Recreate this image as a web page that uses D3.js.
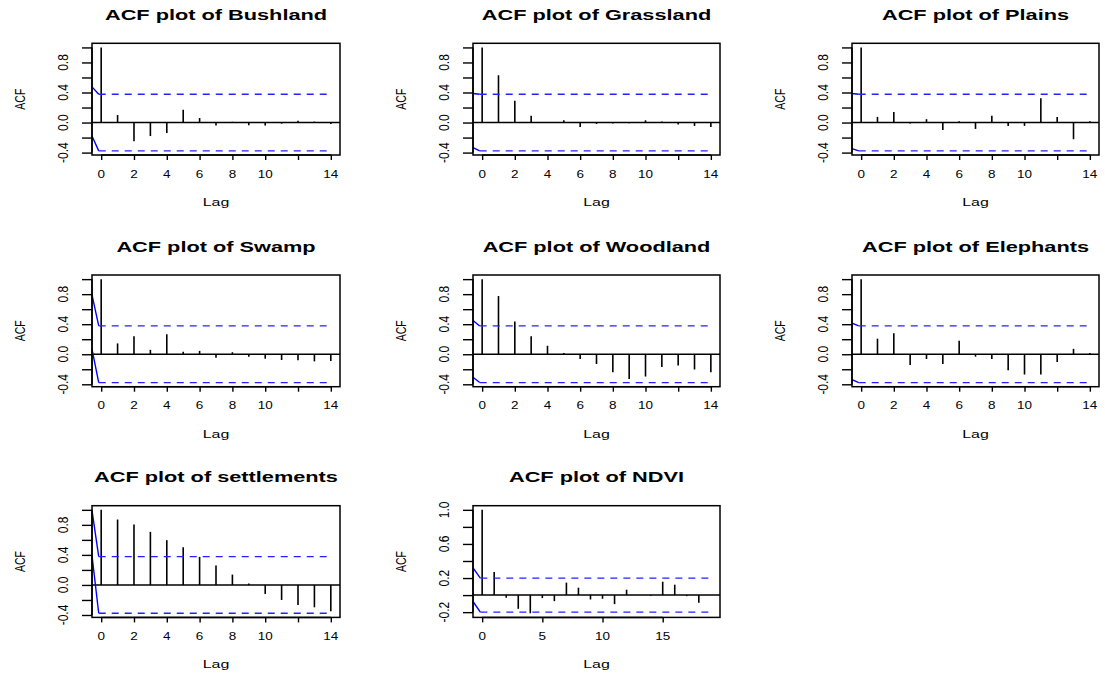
<!DOCTYPE html>
<html>
<head>
<meta charset="utf-8">
<script src="https://cdn.jsdelivr.net/npm/d3@7"></script>
<style>
  body { margin: 0; background: #fff; }
  svg text { font-family: "Liberation Sans", Arial, Helvetica, sans-serif; fill: #000; }
</style>
</head>
<body>
<svg id="chart" width="1105" height="676"></svg>
<script>
// panel names, in reading order
const names = ['Bushland', 'Grassland', 'Plains', 'Swamp', 'Woodland', 'Elephants', 'settlements', 'NDVI'];

// lags
const lags14 = [0, 1, 2, 3, 4, 5, 6, 7, 8, 9, 10, 11, 12, 13, 14];
const lags19 = [0, 1, 2, 3, 4, 5, 6, 7, 8, 9, 10, 11, 12, 13, 14, 15, 16, 17, 18, 19];

// acf values
const acfBushland    = [1.0, 0.10, -0.25, -0.18, -0.14, 0.17, 0.06, -0.04, 0.01, -0.035, -0.04, -0.015, 0.025, 0.013, -0.02];
const acfGrassland   = [1.0, 0.63, 0.29, 0.09, 0.0, 0.03, -0.058, -0.018, -0.013, -0.01, 0.03, 0.013, -0.027, -0.045, -0.06];
const acfPlains      = [1.0, 0.075, 0.14, -0.013, 0.045, -0.10, 0.018, -0.085, 0.09, -0.045, -0.045, 0.325, 0.075, -0.222, 0.018];
const acfSwamp       = [1.0, 0.144, 0.239, 0.059, 0.266, 0.032, 0.045, -0.045, 0.027, -0.032, -0.059, -0.077, -0.081, -0.095, -0.09];
const acfWoodland    = [1.0, 0.775, 0.437, 0.239, 0.113, 0.018, -0.063, -0.13, -0.239, -0.329, -0.297, -0.171, -0.149, -0.203, -0.239];
const acfElephants   = [1.0, 0.207, 0.279, -0.144, -0.063, -0.131, 0.18, -0.032, -0.063, -0.212, -0.27, -0.27, -0.104, 0.072, 0.018];
const acfSettlements = [1.0, 0.871, 0.804, 0.707, 0.596, 0.502, 0.373, 0.258, 0.138, 0.018, -0.12, -0.2, -0.267, -0.298, -0.351];
const acfNDVI        = [1.0, 0.272, -0.031, -0.161, -0.213, -0.035, -0.071, 0.146, 0.087, -0.051, -0.043, -0.106, 0.063, 0.0, -0.008, 0.157, 0.122, -0.012, -0.091, 0.0];

// confidence band (+/-) for each panel
const clim = [0.377, 0.377, 0.377, 0.377, 0.377, 0.377, 0.377, 0.2];
// where the blue band lines start at the left edge of each box
const upperStart = [0.475, 0.387, 0.387, 0.79, 0.45, 0.414, 0.99, 0.319];
const lowerStart = [-0.178, -0.333, -0.347, 0.068, -0.306, -0.338, 0.39, -0.075];

// tick values and labels
const yTicksMain = [-0.4, -0.2, 0.0, 0.2, 0.4, 0.6, 0.8, 1.0];
const yLabelMain = [-0.4, 0.0, 0.4, 0.8];
const yTicksNDVI = [-0.2, 0.0, 0.2, 0.4, 0.6, 0.8, 1.0];
const yLabelNDVI = [-0.2, 0.2, 0.6, 1.0];
const xTicksMain = [0, 2, 4, 6, 8, 10, 12, 14];
const xLabelMain = ['0', '2', '4', '6', '8', '10', '', '14'];
const xTicksNDVI = [0, 5, 10, 15];
const xLabelNDVI = ['0', '5', '10', '15'];

const series = [acfBushland, acfGrassland, acfPlains, acfSwamp, acfWoodland, acfElephants, acfSettlements, acfNDVI];

const colLeft = [92, 473, 852];
const colRight = [340, 720, 1099];
const rowTop = [43.3, 275, 505.7];
const boxH = 111.7;

const svg = d3.select('#chart');

names.forEach(function(name, i) {
    const isNDVI = name === 'NDVI';
    const vals = series[i];
    const lags = isNDVI ? lags19 : lags14;
    const maxLag = lags[lags.length - 1];
    const cl = clim[i];
    const col = i % 3, row = Math.floor(i / 3);
    const x0 = colLeft[col], x1 = colRight[col];
    const y0 = rowTop[row], y1 = rowTop[row] + boxH;

    // R style limits, 4% padding
    const lo = Math.min(d3.min(vals), -cl), hi = Math.max(d3.max(vals), cl);
    const pad = (hi - lo) * 0.04;
    const yScale = d3.scaleLinear().domain([lo - pad, hi + pad]).range([y1, y0]);
    const xScale = d3.scaleLinear().domain([-0.04 * maxLag, maxLag * 1.04]).range([x0, x1]);

    const g = svg.append('g');

    // zero line
    g.append('line')
        .attr('x1', x0).attr('x2', x1)
        .attr('y1', yScale(0)).attr('y2', yScale(0))
        .attr('stroke', '#000').attr('stroke-width', 1.5);

    // spikes
    g.selectAll('line.spike')
        .data(lags)
        .enter()
        .append('line')
        .attr('class', 'spike')
        .attr('x1', (d) => xScale(d)).attr('x2', (d) => xScale(d))
        .attr('y1', yScale(0))
        .attr('y2', (d, k) => yScale(vals[k]))
        .attr('stroke', '#000').attr('stroke-width', 1.6);

    // confidence lines: slanted start then dashed
    const dashFrom = -0.15;
    [[cl, upperStart[i]], [-cl, lowerStart[i]]].forEach(function(p) {
        g.append('line')
            .attr('x1', x0).attr('y1', yScale(p[1]))
            .attr('x2', xScale(dashFrom)).attr('y2', yScale(p[0]))
            .attr('stroke', '#0000ff').attr('stroke-width', 1.4);
        g.append('line')
            .attr('x1', xScale(dashFrom)).attr('x2', xScale(maxLag))
            .attr('y1', yScale(p[0])).attr('y2', yScale(p[0]))
            .attr('stroke', '#2222ff').attr('stroke-width', 1.3)
            .attr('stroke-dasharray', '7,6');
    });

    // box
    g.append('rect')
        .attr('x', x0).attr('y', y0)
        .attr('width', x1 - x0).attr('height', y1 - y0)
        .attr('fill', 'none').attr('stroke', '#000').attr('stroke-width', 1.5);

    // y axis
    const yTicks = isNDVI ? yTicksNDVI : yTicksMain;
    const yLabels = isNDVI ? yLabelNDVI : yLabelMain;
    g.append('g')
        .attr('transform', `translate(${x0},0)`)
        .call(d3.axisLeft(yScale).tickValues(yTicks).tickSize(10).tickSizeOuter(0).tickFormat(''))
        .call((a) => a.select('.domain')
            .attr('d', `M0,${yScale(yTicks[0])}V${yScale(yTicks[yTicks.length - 1])}`)
            .attr('stroke-width', 1.5))
        .call((a) => a.selectAll('.tick line').attr('stroke-width', 1.4));
    g.selectAll('text.ylab')
        .data(yLabels)
        .enter()
        .append('text')
        .attr('class', 'ylab')
        .attr('transform', (d) => `translate(${x0 - 29},${yScale(d)}) scale(1.16,1) rotate(-90)`)
        .attr('dy', '0.36em')
        .attr('text-anchor', 'middle')
        .attr('font-size', 12)
        .text((d) => d.toFixed(1));

    // x axis
    const xTicks = isNDVI ? xTicksNDVI : xTicksMain;
    const xLabels = isNDVI ? xLabelNDVI : xLabelMain;
    g.append('g')
        .attr('transform', `translate(0,${y1})`)
        .call(d3.axisBottom(xScale).tickValues(xTicks).tickSize(5).tickSizeOuter(0).tickFormat(''))
        .call((a) => a.select('.domain')
            .attr('d', `M${xScale(xTicks[0])},0H${xScale(xTicks[xTicks.length - 1])}`)
            .attr('stroke-width', 1.5))
        .call((a) => a.selectAll('.tick line').attr('stroke-width', 1.4));
    g.selectAll('text.xlab')
        .data(xTicks)
        .enter()
        .append('text')
        .attr('class', 'xlab')
        .attr('transform', (d) => `translate(${xScale(d)},${y1 + 22.5}) scale(1.35,1)`)
        .attr('text-anchor', 'middle')
        .attr('font-size', 10)
        .text((d, k) => xLabels[k]);

    // axis titles
    g.append('text')
        .attr('transform', `translate(${(x0 + x1) / 2},${y1 + 51}) scale(1.45,1)`)
        .attr('text-anchor', 'middle')
        .attr('font-size', 11)
        .text('Lag');
    g.append('text')
        .attr('transform', `translate(${x0 - 72},${(y0 + y1) / 2}) scale(1.35,1) rotate(-90)`)
        .attr('dy', '0.36em')
        .attr('text-anchor', 'middle')
        .attr('font-size', 10.5)
        .text('ACF');

    // panel title
    g.append('text')
        .attr('transform', `translate(${(x0 + x1) / 2},${y0 - 23.5}) scale(1.5,1)`)
        .attr('text-anchor', 'middle')
        .attr('font-size', 14.5)
        .attr('font-weight', 'bold')
        .text('ACF plot of ' + name);
});
</script>
</body>
</html>
